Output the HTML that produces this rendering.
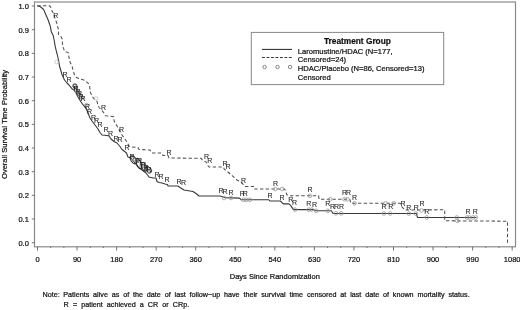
<!DOCTYPE html><html><head><meta charset="utf-8"><style>html,body{margin:0;padding:0;background:#fff;overflow:hidden;}svg{display:block;filter:grayscale(1);}text{font-family:"Liberation Sans",sans-serif;stroke:#111;stroke-width:0.22px;paint-order:stroke;}text.r{stroke-width:0.05px;}</style></head><body>
<svg width="520" height="310" viewBox="0 0 520 310">
<rect width="520" height="310" fill="#fff"/>
<rect x="34.5" y="2" width="481" height="244.8" fill="none" stroke="#8a8a8a" stroke-width="1.2"/>
<line x1="31.8" y1="242.70" x2="34.5" y2="242.70" stroke="#666" stroke-width="0.9"/>
<text x="28.9" y="245.70" font-size="7.5" text-anchor="end" fill="#111">0.0</text>
<line x1="31.8" y1="219.03" x2="34.5" y2="219.03" stroke="#666" stroke-width="0.9"/>
<text x="28.9" y="222.03" font-size="7.5" text-anchor="end" fill="#111">0.1</text>
<line x1="31.8" y1="195.36" x2="34.5" y2="195.36" stroke="#666" stroke-width="0.9"/>
<text x="28.9" y="198.36" font-size="7.5" text-anchor="end" fill="#111">0.2</text>
<line x1="31.8" y1="171.69" x2="34.5" y2="171.69" stroke="#666" stroke-width="0.9"/>
<text x="28.9" y="174.69" font-size="7.5" text-anchor="end" fill="#111">0.3</text>
<line x1="31.8" y1="148.02" x2="34.5" y2="148.02" stroke="#666" stroke-width="0.9"/>
<text x="28.9" y="151.02" font-size="7.5" text-anchor="end" fill="#111">0.4</text>
<line x1="31.8" y1="124.35" x2="34.5" y2="124.35" stroke="#666" stroke-width="0.9"/>
<text x="28.9" y="127.35" font-size="7.5" text-anchor="end" fill="#111">0.5</text>
<line x1="31.8" y1="100.68" x2="34.5" y2="100.68" stroke="#666" stroke-width="0.9"/>
<text x="28.9" y="103.68" font-size="7.5" text-anchor="end" fill="#111">0.6</text>
<line x1="31.8" y1="77.01" x2="34.5" y2="77.01" stroke="#666" stroke-width="0.9"/>
<text x="28.9" y="80.01" font-size="7.5" text-anchor="end" fill="#111">0.7</text>
<line x1="31.8" y1="53.34" x2="34.5" y2="53.34" stroke="#666" stroke-width="0.9"/>
<text x="28.9" y="56.34" font-size="7.5" text-anchor="end" fill="#111">0.8</text>
<line x1="31.8" y1="29.67" x2="34.5" y2="29.67" stroke="#666" stroke-width="0.9"/>
<text x="28.9" y="32.67" font-size="7.5" text-anchor="end" fill="#111">0.9</text>
<line x1="31.8" y1="6.00" x2="34.5" y2="6.00" stroke="#666" stroke-width="0.9"/>
<text x="28.9" y="9.00" font-size="7.5" text-anchor="end" fill="#111">1.0</text>
<line x1="37.50" y1="246.8" x2="37.50" y2="250.5" stroke="#666" stroke-width="0.9"/>
<text x="37.50" y="261.8" font-size="7.5" text-anchor="middle" fill="#111">0</text>
<line x1="50.69" y1="246.8" x2="50.69" y2="248" stroke="#666" stroke-width="0.9"/>
<line x1="63.87" y1="246.8" x2="63.87" y2="248" stroke="#666" stroke-width="0.9"/>
<line x1="77.06" y1="246.8" x2="77.06" y2="250.5" stroke="#666" stroke-width="0.9"/>
<text x="77.06" y="261.8" font-size="7.5" text-anchor="middle" fill="#111">90</text>
<line x1="90.24" y1="246.8" x2="90.24" y2="248" stroke="#666" stroke-width="0.9"/>
<line x1="103.42" y1="246.8" x2="103.42" y2="248" stroke="#666" stroke-width="0.9"/>
<line x1="116.61" y1="246.8" x2="116.61" y2="250.5" stroke="#666" stroke-width="0.9"/>
<text x="116.61" y="261.8" font-size="7.5" text-anchor="middle" fill="#111">180</text>
<line x1="129.80" y1="246.8" x2="129.80" y2="248" stroke="#666" stroke-width="0.9"/>
<line x1="142.98" y1="246.8" x2="142.98" y2="248" stroke="#666" stroke-width="0.9"/>
<line x1="156.17" y1="246.8" x2="156.17" y2="250.5" stroke="#666" stroke-width="0.9"/>
<text x="156.17" y="261.8" font-size="7.5" text-anchor="middle" fill="#111">270</text>
<line x1="169.35" y1="246.8" x2="169.35" y2="248" stroke="#666" stroke-width="0.9"/>
<line x1="182.53" y1="246.8" x2="182.53" y2="248" stroke="#666" stroke-width="0.9"/>
<line x1="195.72" y1="246.8" x2="195.72" y2="250.5" stroke="#666" stroke-width="0.9"/>
<text x="195.72" y="261.8" font-size="7.5" text-anchor="middle" fill="#111">360</text>
<line x1="208.91" y1="246.8" x2="208.91" y2="248" stroke="#666" stroke-width="0.9"/>
<line x1="222.09" y1="246.8" x2="222.09" y2="248" stroke="#666" stroke-width="0.9"/>
<line x1="235.28" y1="246.8" x2="235.28" y2="250.5" stroke="#666" stroke-width="0.9"/>
<text x="235.28" y="261.8" font-size="7.5" text-anchor="middle" fill="#111">450</text>
<line x1="248.46" y1="246.8" x2="248.46" y2="248" stroke="#666" stroke-width="0.9"/>
<line x1="261.64" y1="246.8" x2="261.64" y2="248" stroke="#666" stroke-width="0.9"/>
<line x1="274.83" y1="246.8" x2="274.83" y2="250.5" stroke="#666" stroke-width="0.9"/>
<text x="274.83" y="261.8" font-size="7.5" text-anchor="middle" fill="#111">540</text>
<line x1="288.01" y1="246.8" x2="288.01" y2="248" stroke="#666" stroke-width="0.9"/>
<line x1="301.20" y1="246.8" x2="301.20" y2="248" stroke="#666" stroke-width="0.9"/>
<line x1="314.38" y1="246.8" x2="314.38" y2="250.5" stroke="#666" stroke-width="0.9"/>
<text x="314.38" y="261.8" font-size="7.5" text-anchor="middle" fill="#111">630</text>
<line x1="327.57" y1="246.8" x2="327.57" y2="248" stroke="#666" stroke-width="0.9"/>
<line x1="340.75" y1="246.8" x2="340.75" y2="248" stroke="#666" stroke-width="0.9"/>
<line x1="353.94" y1="246.8" x2="353.94" y2="250.5" stroke="#666" stroke-width="0.9"/>
<text x="353.94" y="261.8" font-size="7.5" text-anchor="middle" fill="#111">720</text>
<line x1="367.12" y1="246.8" x2="367.12" y2="248" stroke="#666" stroke-width="0.9"/>
<line x1="380.31" y1="246.8" x2="380.31" y2="248" stroke="#666" stroke-width="0.9"/>
<line x1="393.50" y1="246.8" x2="393.50" y2="250.5" stroke="#666" stroke-width="0.9"/>
<text x="393.50" y="261.8" font-size="7.5" text-anchor="middle" fill="#111">810</text>
<line x1="406.68" y1="246.8" x2="406.68" y2="248" stroke="#666" stroke-width="0.9"/>
<line x1="419.87" y1="246.8" x2="419.87" y2="248" stroke="#666" stroke-width="0.9"/>
<line x1="433.05" y1="246.8" x2="433.05" y2="250.5" stroke="#666" stroke-width="0.9"/>
<text x="433.05" y="261.8" font-size="7.5" text-anchor="middle" fill="#111">900</text>
<line x1="446.24" y1="246.8" x2="446.24" y2="248" stroke="#666" stroke-width="0.9"/>
<line x1="459.42" y1="246.8" x2="459.42" y2="248" stroke="#666" stroke-width="0.9"/>
<line x1="472.61" y1="246.8" x2="472.61" y2="250.5" stroke="#666" stroke-width="0.9"/>
<text x="472.61" y="261.8" font-size="7.5" text-anchor="middle" fill="#111">990</text>
<line x1="485.79" y1="246.8" x2="485.79" y2="248" stroke="#666" stroke-width="0.9"/>
<line x1="498.98" y1="246.8" x2="498.98" y2="248" stroke="#666" stroke-width="0.9"/>
<line x1="512.16" y1="246.8" x2="512.16" y2="250.5" stroke="#666" stroke-width="0.9"/>
<text x="512.16" y="261.8" font-size="7.5" text-anchor="middle" fill="#111">1080</text>
<text x="274.8" y="278.6" font-size="7.5" text-anchor="middle" fill="#111">Days Since Randomization</text>
<text transform="translate(6.9,124.5) rotate(-90)" font-size="7.5" word-spacing="0.3" text-anchor="middle" fill="#111">Overall Survival Time Probability</text>
<polyline points="37.3,5.8 40.4,6.8 42.8,8.7 44.2,10.6 45.7,14.5 47.1,17.4 48.6,21.3 49.6,24.2 50.5,27.1 51.3,31.8 53.2,35.6 54.2,40.5 55.2,46.3 56.1,50.2 57.1,54.0 58.5,60.0 59.5,66.0 61.0,71.0 62.0,74.5 64.5,80.0 67.0,83.0 69.0,85.0 71.9,88.7 74.0,90.0 76.0,93.0 78.0,97.0 81.0,102.0 84.0,106.0 86.0,108.0 88.0,113.0 90.0,118.0 92.0,121.0 95.0,125.0 98.0,129.0 100.0,132.5 102.0,135.0 107.0,135.5 109.0,136.0 111.0,139.0 114.0,141.5 117.0,143.0 120.0,146.5 122.0,149.5 124.0,151.0 126.5,153.0 128.0,157.0 131.0,158.0 135.0,163.0 138.0,167.0 142.0,170.0 146.0,173.0 149.0,177.0 153.0,178.0 156.0,178.0 157.0,181.5 159.0,182.5 162.0,183.0 165.0,184.0 167.5,184.5 168.0,186.0 178.0,186.0 180.0,187.5 184.0,190.0 187.0,190.5 193.0,191.5 196.0,193.5 199.0,196.0 220.0,196.0 225.0,197.6 239.5,198.1 241.2,199.8 268.9,199.8 270.0,201.0 280.4,201.0 283.3,203.9 289.0,203.9 290.8,205.6 293.2,209.1 294.9,209.6 314.0,209.6 315.1,210.8 331.3,210.8 333.0,213.4 416.3,213.5 417.5,217.4 476.4,217.5" fill="none" stroke="#383838" stroke-width="1.1" stroke-linejoin="round"/>
<polyline points="37.3,5.8 49.6,5.8 50.5,6.8 52.0,11.1 53.5,13.5 55.4,19.4 56.8,23.2 58.3,29.0 58.6,34.7 61.0,36.6 62.4,39.5 62.4,44.4 63.4,48.2 64.8,51.6 68.2,52.6 68.5,55.0 70.0,62.0 72.0,66.0 73.0,70.0 74.5,75.0 76.5,77.5 80.0,79.0 85.0,80.5 88.0,83.0 89.5,85.5 90.4,92.0 92.0,96.4 94.3,98.8 97.2,101.7 97.7,104.6 99.1,107.5 101.0,109.5 103.5,112.3 105.4,115.7 113.7,116.7 114.1,121.0 116.0,124.0 118.0,128.0 121.0,133.0 122.0,135.0 125.0,139.0 127.5,143.0 129.0,146.0 132.0,147.0 138.0,147.5 139.0,149.5 150.0,150.0 152.0,153.0 162.0,153.0 163.0,155.5 168.0,155.5 169.0,158.0 201.0,158.3 202.9,160.6 206.0,161.8 207.8,165.5 209.0,167.0 223.2,167.0 224.4,169.2 227.4,171.6 232.4,175.9 237.3,180.2 239.7,181.4 243.4,184.5 245.2,186.4 254.5,186.4 255.0,189.0 284.4,189.0 285.6,190.6 286.7,194.7 289.0,195.8 318.6,195.8 319.0,199.3 349.8,199.3 351.0,203.3 400.2,203.3 402.0,207.0 404.8,210.0 444.7,209.8 444.7,220.8 507.5,221.2 507.5,243.0" fill="none" stroke="#505050" stroke-width="1.05" stroke-dasharray="3.4,2.3"/>
<circle cx="74.3" cy="85.8" r="1.85" fill="none" stroke="#999" stroke-width="0.8"/>
<circle cx="75.5" cy="88" r="1.85" fill="none" stroke="#999" stroke-width="0.8"/>
<circle cx="76.5" cy="90" r="1.85" fill="none" stroke="#999" stroke-width="0.8"/>
<circle cx="77.5" cy="92" r="1.85" fill="none" stroke="#999" stroke-width="0.8"/>
<circle cx="79" cy="94" r="1.85" fill="none" stroke="#999" stroke-width="0.8"/>
<circle cx="80.5" cy="96" r="1.85" fill="none" stroke="#999" stroke-width="0.8"/>
<circle cx="82" cy="98" r="1.85" fill="none" stroke="#999" stroke-width="0.8"/>
<circle cx="86.4" cy="105" r="1.85" fill="none" stroke="#999" stroke-width="0.8"/>
<circle cx="132.5" cy="158" r="1.85" fill="none" stroke="#999" stroke-width="0.8"/>
<circle cx="134.5" cy="162" r="1.85" fill="none" stroke="#999" stroke-width="0.8"/>
<circle cx="139.5" cy="161" r="1.85" fill="none" stroke="#999" stroke-width="0.8"/>
<circle cx="141.5" cy="166" r="1.85" fill="none" stroke="#999" stroke-width="0.8"/>
<circle cx="144.5" cy="166" r="1.85" fill="none" stroke="#999" stroke-width="0.8"/>
<circle cx="146.5" cy="170" r="1.85" fill="none" stroke="#999" stroke-width="0.8"/>
<circle cx="150" cy="170" r="1.85" fill="none" stroke="#999" stroke-width="0.8"/>
<circle cx="224" cy="198" r="1.85" fill="none" stroke="#999" stroke-width="0.8"/>
<circle cx="231" cy="198" r="1.85" fill="none" stroke="#999" stroke-width="0.8"/>
<circle cx="243.5" cy="199.8" r="1.85" fill="none" stroke="#999" stroke-width="0.8"/>
<circle cx="246.4" cy="199.8" r="1.85" fill="none" stroke="#999" stroke-width="0.8"/>
<circle cx="249.8" cy="199.8" r="1.85" fill="none" stroke="#999" stroke-width="0.8"/>
<circle cx="275.2" cy="189" r="1.85" fill="none" stroke="#999" stroke-width="0.8"/>
<circle cx="282.1" cy="189" r="1.85" fill="none" stroke="#999" stroke-width="0.8"/>
<circle cx="294.9" cy="209.6" r="1.85" fill="none" stroke="#999" stroke-width="0.8"/>
<circle cx="308.8" cy="209.6" r="1.85" fill="none" stroke="#999" stroke-width="0.8"/>
<circle cx="311.6" cy="209.6" r="1.85" fill="none" stroke="#999" stroke-width="0.8"/>
<circle cx="316.3" cy="210.8" r="1.85" fill="none" stroke="#999" stroke-width="0.8"/>
<circle cx="327.8" cy="210.8" r="1.85" fill="none" stroke="#999" stroke-width="0.8"/>
<circle cx="335.9" cy="213.3" r="1.85" fill="none" stroke="#999" stroke-width="0.8"/>
<circle cx="341.1" cy="213.3" r="1.85" fill="none" stroke="#999" stroke-width="0.8"/>
<circle cx="309.9" cy="195.8" r="1.85" fill="none" stroke="#999" stroke-width="0.8"/>
<circle cx="330.1" cy="199.3" r="1.85" fill="none" stroke="#999" stroke-width="0.8"/>
<circle cx="344.5" cy="199.3" r="1.85" fill="none" stroke="#999" stroke-width="0.8"/>
<circle cx="347.5" cy="199.3" r="1.85" fill="none" stroke="#999" stroke-width="0.8"/>
<circle cx="354.5" cy="203.3" r="1.85" fill="none" stroke="#999" stroke-width="0.8"/>
<circle cx="385.6" cy="203.3" r="1.85" fill="none" stroke="#999" stroke-width="0.8"/>
<circle cx="393.7" cy="203.3" r="1.85" fill="none" stroke="#999" stroke-width="0.8"/>
<circle cx="383.9" cy="213.5" r="1.85" fill="none" stroke="#999" stroke-width="0.8"/>
<circle cx="390.2" cy="213.5" r="1.85" fill="none" stroke="#999" stroke-width="0.8"/>
<circle cx="408.8" cy="213.6" r="1.85" fill="none" stroke="#999" stroke-width="0.8"/>
<circle cx="415.8" cy="213.6" r="1.85" fill="none" stroke="#999" stroke-width="0.8"/>
<circle cx="421.5" cy="210.5" r="1.85" fill="none" stroke="#999" stroke-width="0.8"/>
<circle cx="426.7" cy="217.4" r="1.85" fill="none" stroke="#999" stroke-width="0.8"/>
<circle cx="456.8" cy="217.5" r="1.85" fill="none" stroke="#999" stroke-width="0.8"/>
<circle cx="467.1" cy="217.5" r="1.85" fill="none" stroke="#999" stroke-width="0.8"/>
<circle cx="469.4" cy="217.5" r="1.85" fill="none" stroke="#999" stroke-width="0.8"/>
<circle cx="472.9" cy="217.5" r="1.85" fill="none" stroke="#999" stroke-width="0.8"/>
<circle cx="475.8" cy="217.5" r="1.85" fill="none" stroke="#999" stroke-width="0.8"/>
<circle cx="457.3" cy="220.8" r="1.85" fill="none" stroke="#999" stroke-width="0.8"/>
<circle cx="56.5" cy="62" r="1.8" fill="none" stroke="#c4c4c4" stroke-width="0.8"/>
<circle cx="96.2" cy="98.3" r="1.8" fill="none" stroke="#c4c4c4" stroke-width="0.8"/>
<ellipse cx="75.1" cy="86" rx="1.9" ry="2.1" transform="rotate(0 75.1 86)" fill="none" stroke="#222" stroke-width="0.9"/>
<ellipse cx="133.4" cy="159.7" rx="2.6" ry="4.4" transform="rotate(-32 133.4 159.7)" fill="none" stroke="#222" stroke-width="0.9"/>
<ellipse cx="138.8" cy="163.6" rx="2.1" ry="5.6" transform="rotate(-22 138.8 163.6)" fill="none" stroke="#222" stroke-width="0.9"/>
<ellipse cx="143.9" cy="166.7" rx="2.3" ry="4.6" transform="rotate(-28 143.9 166.7)" fill="none" stroke="#222" stroke-width="0.9"/>
<ellipse cx="148.5" cy="169.8" rx="2.3" ry="3.8" transform="rotate(-35 148.5 169.8)" fill="none" stroke="#222" stroke-width="0.9"/>
<g fill="#1a1a1a">
<text class="r" x="53.3" y="18.0" font-size="7">R</text>
<text class="r" x="101.0" y="109.5" font-size="7">R</text>
<text class="r" x="119.0" y="132.0" font-size="7">R</text>
<text class="r" x="124.5" y="150.0" font-size="7">R</text>
<text class="r" x="166.5" y="154.5" font-size="7">R</text>
<text class="r" x="204.1" y="159.4" font-size="7">R</text>
<text class="r" x="207.2" y="163.1" font-size="7">R</text>
<text class="r" x="222.5" y="166.2" font-size="7">R</text>
<text class="r" x="225.5" y="168.6" font-size="7">R</text>
<text class="r" x="240.9" y="182.7" font-size="7">R</text>
<text class="r" x="273.0" y="185.5" font-size="7">R</text>
<text class="r" x="307.4" y="192.0" font-size="7">R</text>
<text class="r" x="342.0" y="195.4" font-size="7">R</text>
<text class="r" x="346.0" y="195.4" font-size="7">R</text>
<text class="r" x="352.0" y="199.5" font-size="7">R</text>
<text class="r" x="400.5" y="205.5" font-size="7">R</text>
<text class="r" x="406.3" y="209.5" font-size="7">R</text>
<text class="r" x="413.8" y="209.5" font-size="7">R</text>
<text class="r" x="419.6" y="206.0" font-size="7">R</text>
<text class="r" x="424.2" y="214.1" font-size="7">R</text>
<text class="r" x="465.6" y="214.0" font-size="7">R</text>
<text class="r" x="472.7" y="214.0" font-size="7">R</text>
<text class="r" x="62.5" y="77.0" font-size="7">R</text>
<text class="r" x="66.5" y="81.5" font-size="7">R</text>
<text class="r" x="73.5" y="90.5" font-size="7">R</text>
<text class="r" x="75.5" y="93.5" font-size="7">R</text>
<text class="r" x="77.0" y="96.0" font-size="7">R</text>
<text class="r" x="78.5" y="98.5" font-size="7">R</text>
<text class="r" x="80.5" y="101.0" font-size="7">R</text>
<text class="r" x="84.9" y="108.5" font-size="7">R</text>
<text class="r" x="87.0" y="113.5" font-size="7">R</text>
<text class="r" x="91.0" y="119.5" font-size="7">R</text>
<text class="r" x="94.0" y="123.0" font-size="7">R</text>
<text class="r" x="97.5" y="127.0" font-size="7">R</text>
<text class="r" x="103.5" y="132.0" font-size="7">R</text>
<text class="r" x="108.0" y="136.0" font-size="7">R</text>
<text class="r" x="113.5" y="140.5" font-size="7">R</text>
<text class="r" x="117.5" y="142.0" font-size="7">R</text>
<text class="r" x="129.5" y="159.0" font-size="7">R</text>
<text class="r" x="137.0" y="162.5" font-size="7">R</text>
<text class="r" x="141.0" y="167.0" font-size="7">R</text>
<text class="r" x="143.5" y="169.5" font-size="7">R</text>
<text class="r" x="146.5" y="171.5" font-size="7">R</text>
<text class="r" x="154.5" y="176.5" font-size="7">R</text>
<text class="r" x="158.5" y="179.0" font-size="7">R</text>
<text class="r" x="164.5" y="181.5" font-size="7">R</text>
<text class="r" x="176.5" y="183.5" font-size="7">R</text>
<text class="r" x="181.0" y="185.0" font-size="7">R</text>
<text class="r" x="218.5" y="192.5" font-size="7">R</text>
<text class="r" x="222.5" y="193.5" font-size="7">R</text>
<text class="r" x="228.5" y="194.5" font-size="7">R</text>
<text class="r" x="239.8" y="196.0" font-size="7">R</text>
<text class="r" x="242.7" y="196.0" font-size="7">R</text>
<text class="r" x="267.5" y="197.7" font-size="7">R</text>
<text class="r" x="279.6" y="200.0" font-size="7">R</text>
<text class="r" x="288.3" y="201.8" font-size="7">R</text>
<text class="r" x="292.0" y="205.0" font-size="7">R</text>
<text class="r" x="306.3" y="205.8" font-size="7">R</text>
<text class="r" x="312.0" y="207.0" font-size="7">R</text>
<text class="r" x="325.3" y="206.4" font-size="7">R</text>
<text class="r" x="329.9" y="209.3" font-size="7">R</text>
<text class="r" x="333.9" y="209.3" font-size="7">R</text>
<text class="r" x="339.1" y="209.3" font-size="7">R</text>
<text class="r" x="381.4" y="209.3" font-size="7">R</text>
<text class="r" x="388.3" y="209.3" font-size="7">R</text>
</g>
<rect x="251.3" y="32.4" width="192.4" height="52.2" fill="#fff" stroke="#888" stroke-width="1"/>
<text x="357.4" y="43.7" font-size="8.3" font-weight="bold" text-anchor="middle" fill="#111">Treatment Group</text>
<line x1="262" y1="49.4" x2="292" y2="49.4" stroke="#222" stroke-width="1"/>
<line x1="262.1" y1="57.5" x2="292" y2="57.5" stroke="#333" stroke-width="1" stroke-dasharray="2.8,1.67"/>
<circle cx="264.6" cy="67" r="1.7" fill="none" stroke="#777" stroke-width="0.9"/>
<circle cx="277.5" cy="67" r="1.7" fill="none" stroke="#777" stroke-width="0.9"/>
<circle cx="290.1" cy="67" r="1.7" fill="none" stroke="#777" stroke-width="0.9"/>
<text x="297.8" y="53.5" font-size="7.6" fill="#111">Laromustine/HDAC (N=177,</text>
<text x="297.8" y="62.4" font-size="7.6" fill="#111">Censored=24)</text>
<text x="297.8" y="71.3" font-size="7.6" fill="#111">HDAC/Placebo (N=86, Censored=13)</text>
<text x="297.8" y="80.2" font-size="7.6" fill="#111">Censored</text>
<text x="42.6" y="296.5" font-size="7.2" fill="#111">Note:</text>
<text x="63.3" y="296.5" font-size="7.2" word-spacing="1.85" fill="#111">Patients alive as of the date of last follow&#8722;up have their survival time censored at last date of known mortality status.</text>
<text x="63.6" y="307" font-size="7.2" word-spacing="2.1" fill="#111">R = patient achieved a CR or CRp.</text>
</svg></body></html>
